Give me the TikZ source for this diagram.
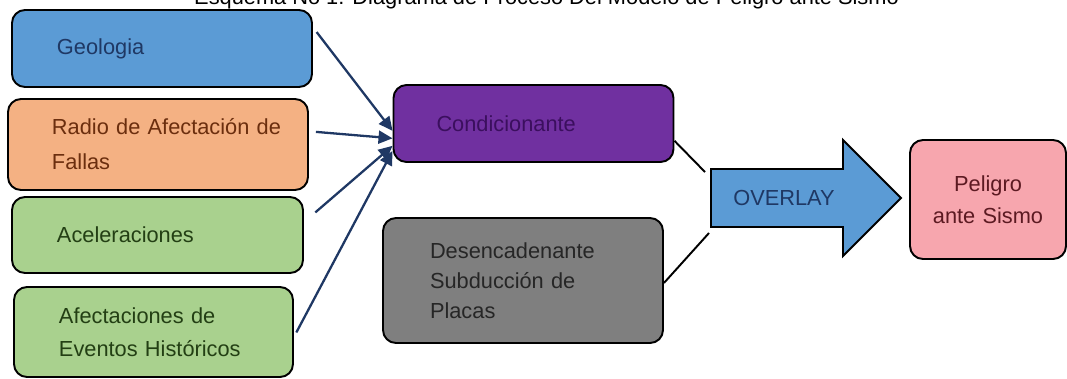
\documentclass[tikz,border=0pt]{standalone}
\usepackage{fontspec}
\setmainfont{Liberation Sans}
\usetikzlibrary{arrows.meta}
\definecolor{geoblue}{HTML}{5B9BD5}
\definecolor{navy}{HTML}{1F3864}
\definecolor{radiofill}{HTML}{F4B183}
\definecolor{radiotext}{HTML}{6B2E0E}
\definecolor{acelfill}{HTML}{A9D18E}
\definecolor{aceltext}{HTML}{233F14}
\definecolor{condfill}{HTML}{7030A0}
\definecolor{condtext}{HTML}{3B0F5E}
\definecolor{desenfill}{HTML}{7F7F7F}
\definecolor{desentext}{HTML}{262626}
\definecolor{pelfill}{HTML}{F7A6AE}
\definecolor{peltext}{HTML}{5C1A22}

\begin{document}
\begin{tikzpicture}[x=0.2mm, y=-0.2mm, every node/.style={font=\fontsize{12.4}{18.5}\selectfont}, box/.style={draw=black, line width=1.1pt, rounded corners=2.6mm, align=left, inner xsep=9mm, inner ysep=0pt}, feed/.style={draw=navy, line width=1.3pt, -{Triangle[length=2.8mm, width=2.6mm]}}, link/.style={draw=black, line width=1.1pt}]
	\useasboundingbox (0,0) rectangle (1067,378);
	\node[anchor=base] (title) at (546.5,4) {Esquema No 1: Diagrama de Proceso Del Modelo de Peligro ante Sismo};
	\node[box, fill=geoblue, text=navy, text width=42mm, minimum height=15.4mm] (geo) at (162,48.5) {Geologia};
	\node[box, fill=radiofill, text=radiotext, text width=42.4mm, inner xsep=8.8mm, minimum height=18.2mm, font=\fontsize{12.4}{20}\selectfont] (radio) at (158,144.5) {\mbox{Radio de Afectación de}\\Fallas};
	\node[box, fill=acelfill, text=aceltext, text width=40.2mm, minimum height=15.2mm] (acel) at (157.5,235) {Aceleraciones};
	\node[box, fill=acelfill, text=aceltext, text width=37.8mm, minimum height=18mm] (afect) at (153.5,332) {Afectaciones de\\Eventos Históricos};
	\node[box, fill=condfill, text=condtext, text width=38.8mm, inner xsep=8.6mm, minimum height=15.4mm] (cond) at (533.5,123.5) {Condicionante};
	\node[box, fill=desenfill, text=desentext, text width=37.2mm, inner xsep=9.4mm, minimum height=25mm, font=\fontsize{12.4}{17}\selectfont] (desen) at (523,280.5) {Desencadenante\\Subducción de\\Placas};
	\node[box, fill=pelfill, text=peltext, text width=27.2mm, inner xsep=2mm, minimum height=23.8mm, align=center] (pel) at (988,199.5) {Peligro\\ante Sismo};
	\draw[fill=geoblue, line width=1.1pt] (711,169) -- (843,169) -- (843,140) -- (901,198) -- (843,256) -- (843,227) -- (711,227) -- cycle;
	\node[text=navy] (ovl) at (784,198) {OVERLAY};
	\coordinate (ovin1) at (705,172);
	\coordinate (ovin2) at (709,233);
	\foreach \a/\s/\t/\g in {geo/8/183/1.2, radio/5/186/1.4, acel/5/189/3, afect/-2/191/1} {\draw[feed, shorten <=\g mm] (\a.\s) -- (cond.\t);}
	\draw[link] (cond.-7) -- (ovin1);
	\draw[link] (desen.-1) -- (ovin2);
	\end{tikzpicture}
\end{document}
